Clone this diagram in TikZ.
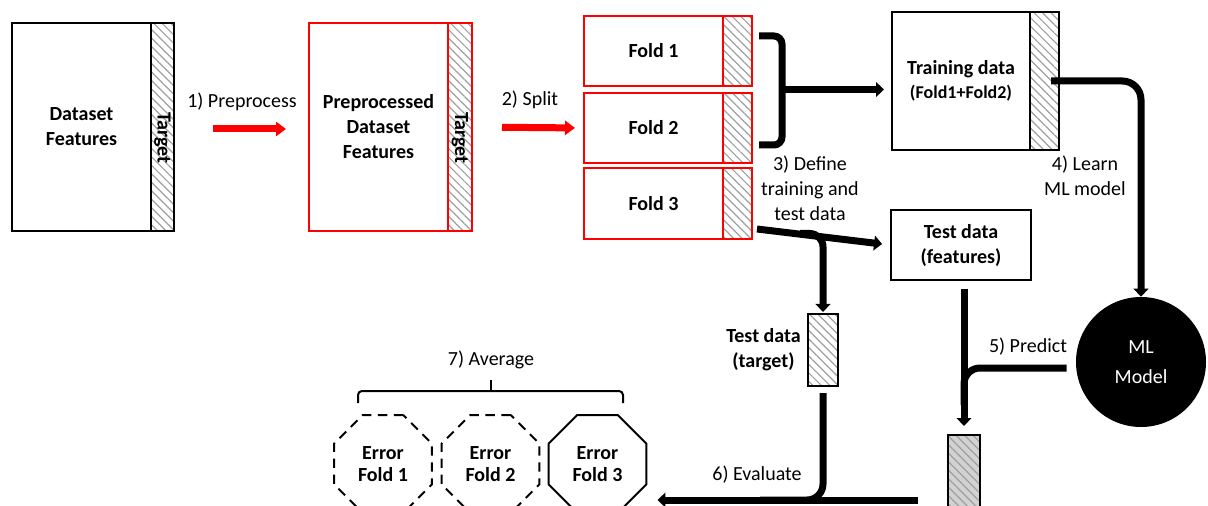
\documentclass[tikz,border=0pt]{standalone}
\usepackage{fontspec}
\setmainfont{Carlito}
\usetikzlibrary{arrows.meta,patterns.meta,shapes.geometric,positioning}

\begin{document}
\begin{tikzpicture}[x=7.5pt,y=7.5pt]
\tikzstyle{every node}+=[inner sep=0pt, align=center, font=\fontsize{15}{18.75}\selectfont\bfseries]
\tikzstyle{box}=[rectangle, draw=black, line width=1.5pt]
\tikzstyle{redbox}=[rectangle, draw=red, line width=1.5pt]
\tikzstyle{hatch}=[pattern={Lines[angle=-45,distance=4.5pt,line width=0.9pt]}, pattern color=gray!75]
\tikzstyle{plain}=[font=\fontsize{15}{18.75}\selectfont]
\tikzstyle{redarrow}=[draw=red, line width=5.25pt, -{Triangle[length=7.5pt,width=10.5pt]}]
\tikzstyle{fatline}=[draw=black, line width=5.25pt]
\tikzstyle{fatarrow}=[fatline, -{Triangle[length=6pt,width=11pt]}]
\tikzstyle{octa}=[regular polygon, regular polygon sides=8, minimum size=79.5pt, draw=black, line width=1.5pt, font=\fontsize{15}{16.5}\selectfont\bfseries]
\useasboundingbox (0,0) rectangle (120.8,-50.6);
\clip (0,0) rectangle (120.8,-50.6);
% dataset
\node (dfeat) [box, minimum width=104.25pt, minimum height=156pt] at (8.15,-12.7) {Dataset\\Features};
\node (dtgt) [box, hatch, minimum width=17.25pt, minimum height=156pt] at (16.25,-12.7) {};
\node (dtgtlbl) [rotate=-90] at ([yshift=-8pt]dtgt.center) {Target};
% preprocessed dataset
\node (pfeat) [redbox, minimum width=104.25pt, minimum height=156pt] at (37.85,-12.7) {Preprocessed\\Dataset\\Features};
\node (ptgt) [redbox, hatch, minimum width=18pt, minimum height=156pt] at (46.0,-12.7) {};
\node (ptgtlbl) [rotate=-90] at ([yshift=-8pt]ptgt.center) {Target};
\draw [redarrow, shorten <=28.5pt, shorten >=16.5pt] ([yshift=-1.5pt]dtgt.east) -- ([yshift=-1.5pt]pfeat.west);
\node (prep) [plain] at (24.2,-10.2) {1) Preprocess};
% folds
\node (f1) [redbox, minimum width=104.25pt, minimum height=52.5pt] at (65.35,-5.1) {Fold 1};
\node (f1t) [redbox, hatch, minimum width=21.75pt, minimum height=52.5pt] at (73.75,-5.1) {};
\node (f2) [redbox, minimum width=104.25pt, minimum height=52.5pt] at (65.35,-12.8) {Fold 2};
\node (f2t) [redbox, hatch, minimum width=21.75pt, minimum height=52.5pt] at (73.75,-12.8) {};
\node (f3) [redbox, minimum width=104.25pt, minimum height=53.25pt] at (65.35,-20.35) {Fold 3};
\node (f3t) [redbox, hatch, minimum width=21.75pt, minimum height=53.25pt] at (73.75,-20.35) {};
\draw [redarrow, shorten <=21.75pt, shorten >=6pt] (ptgt.east) -- (f2.west);
\node (split) [plain] at (53.0,-10.0) {2) Split};
% training and test data
\node (train) [box, minimum width=103.5pt, minimum height=103.5pt] at (96.1,-8.1) {Training data\\[-1pt]{\fontsize{13.5}{16}\selectfont(Fold1+Fold2)}};
\node (traint) [box, hatch, minimum width=21.75pt, minimum height=103.5pt] at (104.45,-8.1) {};
\draw [fatline, rounded corners=6pt] (75.9,-3.6) -- (78.2,-3.6) -- (78.2,-14.5) -- (75.9,-14.5);
\coordinate (brc) at (78.2,-8.95);
\draw [fatarrow, shorten >=5.25pt] (brc) -- (brc -| train.west);
\node (define) [plain] at (81.0,-18.8) {3) Define\\training and\\test data};
\node (tf) [box, minimum width=105pt, minimum height=52.5pt] at (96.1,-24.5) {Test data\\(features)};
\node (tt) [box, hatch, minimum width=22.5pt, minimum height=54pt] at (82.3,-35.0) {};
\node (ttlbl) [left=4.5pt of tt] {Test data\\(target)};
\coordinate (f3out) at (75.7,-22.9);
\draw [fatarrow, shorten >=6pt] (f3out) -- (tf.west);
\coordinate (f3split) at (80.0,-23.35);
\draw [fatarrow, rounded corners=10pt, shorten >=0.75pt] (f3split) -| (tt.north);
% model
\node (ml) [circle, fill=black, minimum size=97.5pt, font=\fontsize{15}{22.5}\selectfont, text=white] at (114.1,-36.2) {ML\\Model};
\draw [fatarrow, rounded corners=14pt, shorten <=15pt] (train.east) -| (ml.north);
\node (learn) [plain] at (108.5,-17.6) {4) Learn\\ML model};
% prediction
\node (pred) [box, hatch, preaction={fill=gray!35}, minimum width=24pt, minimum height=60pt] at (96.4,-47.5) {};
\draw [fatarrow, shorten <=6pt, shorten >=6pt] (pred.north |- tf.south) -- (pred.north);
\coordinate (predj) at (96.4,-40.5);
\draw [fatline, rounded corners=12pt, shorten <=6.75pt] ([yshift=-4.5pt]ml.west) -| (predj);
\node (predict) [plain] at (102.8,-34.7) {5) Predict};
% errors
\node (ef1) [octa, dashed, dash pattern=on 7pt off 5pt] at (38.3,-46.4) {Error\\Fold 1};
\node (ef2) [octa, dashed, dash pattern=on 7pt off 5pt] at (49.05,-46.4) {Error\\Fold 2};
\node (ef3) [octa] at (59.75,-46.4) {Error\\Fold 3};
% evaluation
\coordinate (evj) at (76.0,-50.0);
\draw [fatline, rounded corners=12pt, shorten <=4.5pt] (tt.south) |- (evj);
\coordinate (evr) at (91.8,-50.0);
\draw [fatarrow, shorten >=7.5pt] (evr) -- (evr -| ef3.east);
\node (evaluate) [plain] at (75.7,-47.5) {6) Evaluate};
% average
\draw [line width=1.5pt, rounded corners=3pt] (35.8,-40.3) -- (35.8,-39.1) -- (62.3,-39.1) -- (62.3,-40.3);
\draw [line width=1.5pt] (49.1,-39.1) -- (49.1,-38.0);
\node (average) [plain] at (49.1,-36.0) {7) Average};
\end{tikzpicture}
\end{document}
